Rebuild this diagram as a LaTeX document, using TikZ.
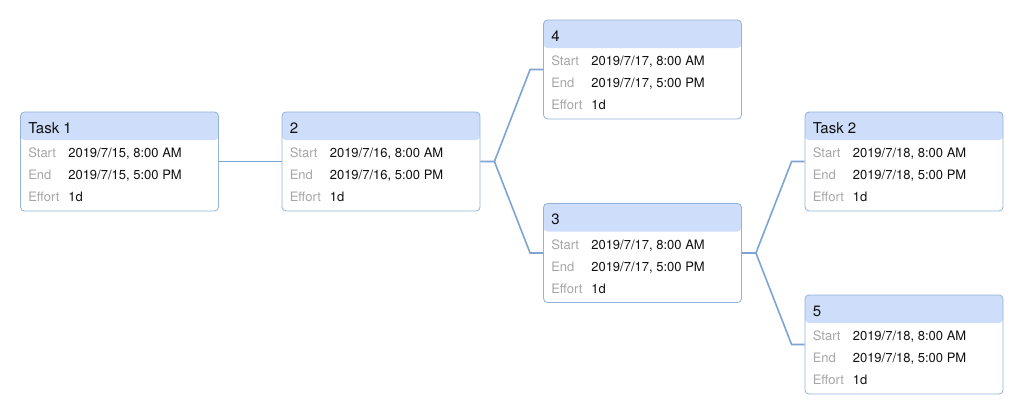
\documentclass[tikz,border=0pt]{standalone}
\usepackage{fontspec}
\setmainfont{TeX Gyre Heros}
\definecolor{headfill}{HTML}{CEDEFA}
\definecolor{boxline}{HTML}{93B3DA}
\definecolor{conn}{HTML}{7EA4D4}
\definecolor{lblgray}{HTML}{A6A6A6}
\definecolor{valtxt}{HTML}{111111}
\newcommand{\mytaskbox}[6]{%
  \node[taskbox] (#1) at (#2) {};
  \node[titletext] (#1-title) at ([xshift=8pt,yshift=-21.5pt]#1.north west) {#3};
  \node[lbltext] (#1-sl) at ([xshift=8pt,yshift=-46pt]#1.north west) {Start};
  \node[valtext] (#1-sv) at ([xshift=48pt,yshift=-46pt]#1.north west) {#4};
  \node[lbltext] (#1-el) at ([xshift=8pt,yshift=-68pt]#1.north west) {End};
  \node[valtext] (#1-ev) at ([xshift=48pt,yshift=-68pt]#1.north west) {#5};
  \node[lbltext] (#1-fl) at ([xshift=8pt,yshift=-90pt]#1.north west) {Effort};
  \node[valtext] (#1-fv) at ([xshift=48pt,yshift=-90pt]#1.north west) {#6};
}
\begin{document}
\begin{tikzpicture}[x=1pt,y=-1pt,
  taskbox/.style={draw=boxline, line width=0.8pt, rounded corners=4pt, fill=white,
    minimum width=198pt, minimum height=99pt, inner sep=0pt,
    path picture={\fill[headfill] (path picture bounding box.north west) rectangle ([yshift=-28pt]path picture bounding box.north east);}},
  titletext/.style={anchor=base west, inner sep=0pt, font=\fontsize{15pt}{17pt}\selectfont, text=valtxt},
  lbltext/.style={anchor=base west, inner sep=0pt, font=\fontsize{13pt}{15pt}\selectfont, text=lblgray},
  valtext/.style={anchor=base west, inner sep=0pt, font=\fontsize{13pt}{15pt}\selectfont, text=valtxt},
  connector/.style={draw=conn, line width=1.6pt}
]
\fill[white] (0,0) rectangle (1024,415);
\useasboundingbox (0,0) rectangle (1024,415);

\mytaskbox{t1}{119.5,161.5}{Task 1}{2019/7/15, 8:00 AM}{2019/7/15, 5:00 PM}{1d}
\mytaskbox{n2}{381,161.5}{2}{2019/7/16, 8:00 AM}{2019/7/16, 5:00 PM}{1d}
\mytaskbox{n4}{642.5,69.5}{4}{2019/7/17, 8:00 AM}{2019/7/17, 5:00 PM}{1d}
\mytaskbox{n3}{642.5,253}{3}{2019/7/17, 8:00 AM}{2019/7/17, 5:00 PM}{1d}
\mytaskbox{t2}{904,161.5}{Task 2}{2019/7/18, 8:00 AM}{2019/7/18, 5:00 PM}{1d}
\mytaskbox{n5}{904,344.5}{5}{2019/7/18, 8:00 AM}{2019/7/18, 5:00 PM}{1d}

\coordinate (j1) at ([xshift=14pt]n2.east);
\coordinate (j2) at ([xshift=14pt]n3.east);
\coordinate (e4) at ([xshift=-13pt]n4.west);
\coordinate (e3) at ([xshift=-13pt]n3.west);
\coordinate (et2) at ([xshift=-13pt]t2.west);
\coordinate (e5) at ([xshift=-13pt]n5.west);

\draw[connector] (t1.east) -- (n2.west);
\draw[connector] (n2.east) -- (j1) -- (e4) -- (n4.west);
\draw[connector] (j1) -- (e3) -- (n3.west);
\draw[connector] (n3.east) -- (j2) -- (et2) -- (t2.west);
\draw[connector] (j2) -- (e5) -- (n5.west);
\end{tikzpicture}
\end{document}
